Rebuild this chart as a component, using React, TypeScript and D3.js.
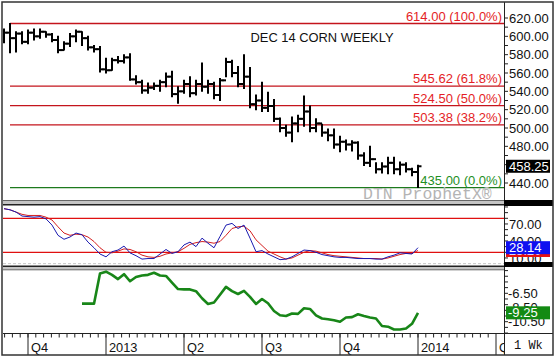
import React from "react";
import * as d3 from "d3";

// ---------- DATA ----------
const opens = [598, 604, 598, 603, 594, 604, 600, 605, 602, 596, 585, 592, 600, 605, 598, 588, 586, 564, 563, 574, 573, 577, 553, 550, 541, 544, 546, 550, 556, 537, 540, 548, 538, 548, 545, 548, 536, 552, 572, 560, 548, 556, 526, 530, 522, 524, 510, 500, 495, 505, 510, 518, 500, 505, 495, 492, 482, 485, 482, 484, 470, 462, 466, 455, 458, 462, 455, 460, 455, 452];
const highs = [608, 614, 605, 605, 607, 608, 608, 605, 603, 600, 594, 603, 607, 605, 600, 590, 589, 576, 576, 578, 580, 581, 557, 552, 549, 549, 552, 560, 562, 545, 552, 556, 552, 571, 552, 550, 554, 576, 574, 567, 580, 566, 536, 550, 539, 531, 511, 503, 512, 514, 535, 524, 510, 504, 499, 499, 491, 487, 486, 485, 473, 480, 462, 462, 468, 468, 463, 462, 456, 459.5];
const lows = [593, 582, 583, 592, 592, 596, 598, 599, 594, 582, 585, 589, 594, 590, 585, 583, 561, 560, 563, 571, 571, 552, 548, 538, 538, 542, 540, 545, 534, 527, 538, 534, 536, 540, 538, 532, 530, 556, 556, 545, 543, 522, 520, 518, 518, 507, 496, 491, 485, 496, 502, 496, 496, 491, 486, 478, 474, 476, 475, 466, 459, 458, 451, 451, 450, 450, 449, 452, 448, 435];
const closes = [604, 598, 603, 594, 604, 600, 605, 602, 596, 585, 592, 600, 605, 598, 588, 586, 564, 563, 574, 573, 577, 553, 550, 541, 544, 546, 550, 556, 537, 540, 548, 538, 548, 545, 548, 536, 552, 572, 560, 548, 556, 526, 530, 522, 524, 510, 500, 495, 505, 510, 518, 500, 505, 495, 492, 482, 485, 482, 484, 470, 462, 466, 455, 458, 462, 455, 460, 455, 452, 458.25];

const stochFast = [97, 95, 91, 84, 83, 82, 83, 79, 68, 50, 43, 47, 54, 51, 38, 28, 17, 12, 21, 24, 31, 19, 14, 8, 9, 9, 17, 25, 18, 21, 33, 38, 30, 45, 36, 28, 48, 68, 71, 62, 68, 45, 21, 23, 17, 12, 7, 8, 12, 18, 24, 23, 20, 16, 14, 12, 11, 11, 10, 9, 9, 9, 8, 8, 12, 15, 19, 18, 17, 28.14];
const stochSlow = [97, 95, 91, 87, 85, 85, 85, 82, 77, 65, 54, 50, 52, 51, 47, 39, 28, 20, 19, 22, 26, 25, 21, 15, 12, 11, 13, 17, 19, 21, 27, 34, 37, 39, 38, 36, 39, 50, 62, 65, 66, 58, 42, 32, 22, 17, 12, 8, 10, 15, 20, 23, 22, 19, 16, 14, 13, 12, 11, 10, 9, 9, 9, 8, 10, 13, 16, 18, 18, 23.2];
const momentum: (number | null)[] = [null, null, null, null, null, null, null, null, null, null, null, null, null, -7.96, -7.96, -7.96, -3.7, -3.45, -3.9, -4.5, -3.8, -4.8, -4.2, -4.0, -3.9, -3.6, -4.0, -4.06, -5.0, -5.9, -5.95, -5.95, -6.2, -7.2, -8.0, -7.8, -6.7, -5.6, -6.2, -6.6, -6.15, -7.0, -8.0, -7.3, -7.9, -9.0, -9.6, -9.7, -9.35, -9.4, -8.6, -8.7, -9.6, -10.05, -10.15, -10.3, -10.5, -9.9, -9.85, -9.45, -9.7, -9.9, -10.05, -11.1, -11.2, -11.6, -11.6, -11.45, -10.8, -9.25];

const fibLevels = [614, 545.62, 524.5, 503.38, 435];
const fibLabels = ["614.00 (100.0%)", "545.62 (61.8%)", "524.50 (50.0%)", "503.38 (38.2%)", "435.00 (0.0%)"];
const priceTicks = [440, 480, 500, 520, 540, 560, 580, 600, 620];
const stochTicks = [10, 40, 70];
const momTicks = [-10.5, -8.5, -6.5];
const quarterIdx = [4, 17, 30, 43, 56, 69, 82];
const quarterLabels = ["Q4", "2013", "Q2", "Q3", "Q4", "2014", "Q2"];

const SANS = "'Liberation Sans', Arial, sans-serif";
const MONO = "'Liberation Mono', 'Courier New', monospace";

export default function App() {
  const PL = 3, PR = 504;
  const x = d3.scaleLinear().domain([0, 69]).range([4, 418]);
  const yP = d3.scaleLinear().domain([440, 620]).range([183, 18]);
  const yS = d3.scaleLinear().domain([20, 80]).range([252.3, 218.3]);
  const yM = d3.scaleLinear().domain([-10.5, -6.5]).range([321.7, 293.3]);

  const lineS = d3.line<number>().x((_, i) => x(i)).y((d) => yS(d));
  const lineM = d3
    .line<number | null>()
    .defined((d) => d !== null)
    .x((_, i) => x(i))
    .y((d) => yM(d as number));

  const priceMinor = d3.range(440, 621, 10);
  const stochMinor = d3.range(0, 101, 10);
  const momMinor = d3.range(-12.1, -2.9, 0.8);

  const qStep = (x(17) - x(4)) / 10;
  const minorX: number[] = [];
  for (let k = -3; k < 60; k++) {
    const v = x(4) + k * qStep;
    if (v > PL && v < PR) minorX.push(v);
  }

  return (
    <svg width={555} height={357} style={{ position: "absolute", left: 0, top: 0, background: "#fff" }} fontFamily={SANS}>
      <defs>
        <clipPath id="plotclip">
          <rect x={PL} y={0} width={PR - PL} height={357} />
        </clipPath>
      </defs>
      <rect x={0} y={0} width={555} height={357} fill="#fff" />

      {/* fib lines */}
      {fibLevels.map((v, i) => (
        <line key={"fl" + i} x1={x(1)} x2={PR} y1={yP(v)} y2={yP(v)} stroke={i === 4 ? "#1d7a1d" : "#c4141c"} strokeWidth={1.3} />
      ))}
      {fibLabels.map((t, i) => (
        <text key={"ft" + i} x={502} y={yP(fibLevels[i]) - 3} textAnchor="end" fontSize={13} fill={i === 4 ? "#1f8f1f" : "#e41e26"}>
          {t}
        </text>
      ))}
      <text x={250.5} y={42.3} fontSize={12.9} fill="#111">DEC 14 CORN WEEKLY</text>
      <text x={363} y={198.5} fontSize={16.5} fontFamily={MONO} fill="#b4b4b4">DTN ProphetX®</text>

      {/* price bars */}
      <g clipPath="url(#plotclip)" stroke="#000" strokeWidth={2}>
        {highs.map((h, i) => (
          <g key={"b" + i}>
            <line x1={x(i)} x2={x(i)} y1={yP(h) - 0.5} y2={yP(lows[i]) + 0.5} />
            <line x1={x(i) - 3.5} x2={x(i)} y1={yP(opens[i])} y2={yP(opens[i])} />
            <line x1={x(i)} x2={x(i) + 3.5} y1={yP(closes[i])} y2={yP(closes[i])} />
          </g>
        ))}
      </g>

      {/* separator top/middle */}
      <line x1={PL} x2={PR} y1={200.5} y2={200.5} stroke="#666" strokeWidth={1} />
      <rect x={PL} y={201} width={PR - PL} height={3} fill="#c4c4c4" />
      <line x1={PL} x2={PR} y1={204.8} y2={204.8} stroke="#222" strokeWidth={1.6} />

      {/* stochastic panel */}
      <line x1={PL} x2={PR} y1={yS(80)} y2={yS(80)} stroke="#e01010" strokeWidth={1.2} />
      <line x1={PL} x2={PR} y1={yS(20)} y2={yS(20)} stroke="#e01010" strokeWidth={1.2} />
      <line x1={PL} x2={PR} y1={yS(0)} y2={yS(0)} stroke="#c8c8c8" strokeWidth={1} strokeDasharray="3,2" />
      <g clipPath="url(#plotclip)">
        <path d={lineS(stochSlow) || ""} fill="none" stroke="#d42020" strokeWidth={1} />
        <path d={lineS(stochFast) || ""} fill="none" stroke="#1a1ab0" strokeWidth={1} />
      </g>

      {/* separator middle/bottom */}
      <line x1={PL} x2={PR} y1={266.2} y2={266.2} stroke="#222" strokeWidth={1.6} />
      <rect x={PL} y={267} width={PR - PL} height={2.5} fill="#c4c4c4" />
      <line x1={PL} x2={PR} y1={269.8} y2={269.8} stroke="#666" strokeWidth={1} />

      {/* momentum */}
      <path d={lineM(momentum) || ""} fill="none" stroke="#188618" strokeWidth={2.6} strokeLinejoin="round" />

      {/* x axis */}
      <line x1={PL} x2={553} y1={333.5} y2={333.5} stroke="#222" strokeWidth={1} />
      {minorX.map((v, i) => (
        <line key={"mx" + i} x1={v} x2={v} y1={333.5} y2={337.5} stroke="#222" strokeWidth={1} />
      ))}
      <g clipPath="url(#plotclip)">
        {quarterIdx.map((q, i) => (
          <g key={"q" + i}>
            <line x1={x(q)} x2={x(q)} y1={333.5} y2={355} stroke="#222" strokeWidth={1} />
            <text x={x(q) + 3} y={351.5} fontSize={12.8} fill="#111">{quarterLabels[i]}</text>
          </g>
        ))}
      </g>

      {/* right axis area */}
      <line x1={PR + 0.5} x2={PR + 0.5} y1={2} y2={355} stroke="#222" strokeWidth={1} />
      {priceMinor.map((v) => (
        <line key={"pm" + v} x1={PR} x2={PR + 4} y1={yP(v)} y2={yP(v)} stroke="#222" />
      ))}
      {priceTicks.map((v) => (
        <text key={"pt" + v} x={509} y={yP(v) + 4.6} fontSize={13} fill="#111">{v.toFixed(2)}</text>
      ))}
      <rect x={506} y={yP(458.25) - 6.5} width={44} height={13} fill="#000" />
      <text x={509} y={yP(458.25) + 4.6} fontSize={13} fill="#fff">458.25</text>
      <rect x={PR} y={200} width={553 - PR} height={6} fill="#000" />

      {stochMinor.map((v) => (
        <line key={"sm" + v} x1={PR} x2={PR + 4} y1={yS(v)} y2={yS(v)} stroke="#222" />
      ))}
      {stochTicks.map((v) => (
        <text key={"st" + v} x={509} y={yS(v) + 4.6} fontSize={13} fill="#111">{v.toFixed(2)}</text>
      ))}
      <rect x={506} y={yS(23.2) - 6.5} width={44} height={13} fill="#e81010" />
      <text x={509} y={yS(23.2) + 4.6} fontSize={13} fill="#fff">23.20</text>
      <rect x={506} y={yS(28.14) - 6.5} width={44} height={13} fill="#1010f0" />
      <text x={509} y={yS(28.14) + 4.6} fontSize={13} fill="#fff">28.14</text>
      <rect x={PR} y={262} width={553 - PR} height={5} fill="#000" />

      {momMinor.map((v, i) => (
        <line key={"mm" + i} x1={PR} x2={PR + 4} y1={yM(v)} y2={yM(v)} stroke="#222" />
      ))}
      {momTicks.map((v) => (
        <text key={"mt" + v} x={508} y={yM(v) + 4.6} fontSize={13} fill="#111">{v.toFixed(2)}</text>
      ))}
      <rect x={506} y={yM(-9.25) - 6.5} width={44} height={13} fill="#138a13" />
      <text x={508} y={yM(-9.25) + 4.6} fontSize={13} fill="#fff">-9.25</text>

      <text x={514} y={349} fontSize={12} fontFamily={MONO} fill="#111">1 Wk</text>

      {/* outer frame */}
      <rect x={2} y={2} width={551} height={353} fill="none" stroke="#333" strokeWidth={1.5} />
    </svg>
  );
}
